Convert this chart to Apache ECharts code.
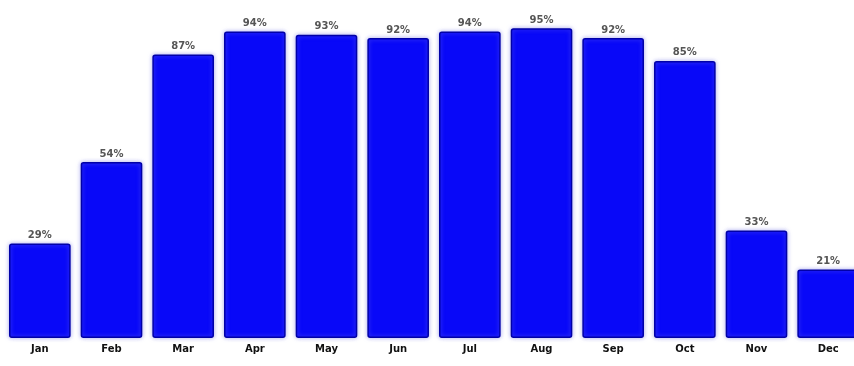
<!DOCTYPE html>
<html>
<head>
<meta charset="utf-8">
<script src="https://cdn.jsdelivr.net/npm/echarts@6/dist/echarts.min.js"></script>
<style>
  html, body { margin: 0; padding: 0; background: #fff; }
  #main { width: 854px; height: 366px; }
</style>
</head>
<body>
<div id="main"></div>
<script>
// months and percentages
var months = ['Jan', 'Feb', 'Mar', 'Apr', 'May', 'Jun', 'Jul', 'Aug', 'Sep', 'Oct', 'Nov', 'Dec'];
var percents = [29, 54, 87, 94, 93, 92, 94, 95, 92, 85, 33, 21];

var myChart = echarts.init(document.getElementById('main'));
var option = {
  animation: false,
  grid: { left: 4, width: 860, top: 12, bottom: 28, outerBoundsMode: 'none' },
  xAxis: {
    type: 'category',
    data: months,
    axisLine: { show: false },
    axisTick: { show: false },
    axisLabel: {
      color: '#111',
      fontWeight: 'bold',
      fontSize: 10,
      fontFamily: 'DejaVu Sans',
      margin: 6
    }
  },
  yAxis: {
    type: 'value',
    min: 0,
    max: 100,
    show: false
  },
  series: [
    {
      type: 'bar',
      data: percents,
      barCategoryGap: '14%',
      itemStyle: {
        color: '#0808f8',
        borderColor: '#0000a8',
        borderWidth: 1.5,
        borderRadius: 2,
        shadowColor: 'rgba(120,120,230,0.6)',
        shadowBlur: 4
      },
      label: {
        show: true,
        position: 'top',
        formatter: '{c}%',
        color: '#555',
        fontWeight: 'bold',
        fontSize: 10,
        fontFamily: 'DejaVu Sans',
        distance: 3
      }
    }
  ]
};
myChart.setOption(option);
</script>
</body>
</html>
